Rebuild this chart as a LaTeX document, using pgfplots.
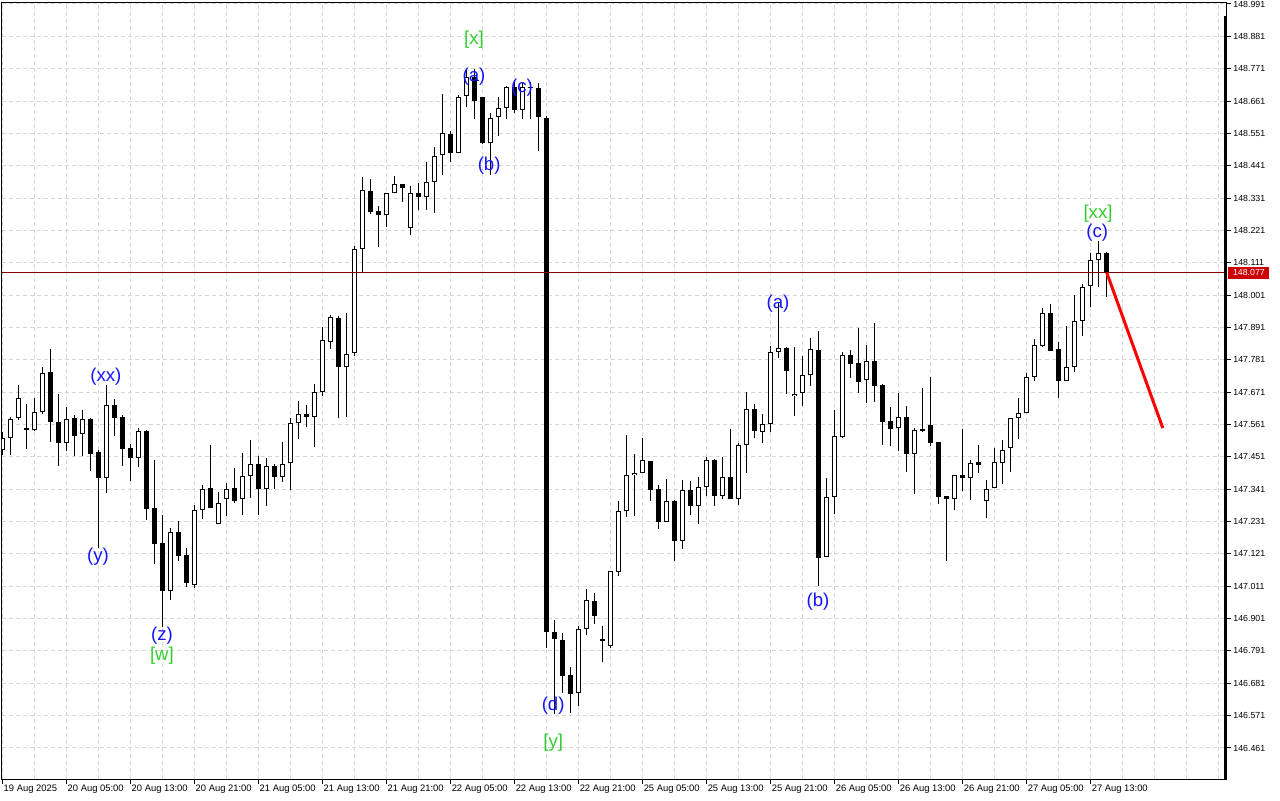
\documentclass[border=0pt]{standalone}
\usepackage{pgfplots}
\pgfplotsset{compat=1.18}
\usepackage{pgfplotstable}
\usepackage{fontspec}
\setmainfont{Liberation Sans}
\definecolor{wblue}{RGB}{20,20,255}
\definecolor{wgreen}{RGB}{50,205,50}
\definecolor{bidred}{RGB}{128,0,0}
\definecolor{gridc}{RGB}{215,215,215}
\definecolor{tagred}{RGB}{204,0,0}

\pgfplotstableread{
i o h l c
0 147.474 147.536 147.457 147.515
1 147.514 147.588 147.457 147.580
2 147.582 147.695 147.576 147.650
3 147.548 147.631 147.479 147.543
4 147.541 147.650 147.539 147.603
5 147.603 147.756 147.596 147.735
6 147.739 147.817 147.503 147.569
7 147.569 147.665 147.421 147.497
8 147.497 147.620 147.472 147.579
9 147.582 147.593 147.455 147.523
10 147.528 147.610 147.455 147.579
11 147.579 147.582 147.404 147.462
12 147.467 147.474 147.140 147.378
13 147.378 147.695 147.327 147.626
14 147.626 147.647 147.523 147.584
15 147.587 147.593 147.421 147.479
16 147.480 147.495 147.370 147.448
17 147.448 147.548 147.416 147.539
18 147.539 147.541 147.236 147.275
19 147.276 147.440 147.086 147.156
20 147.158 147.253 146.871 146.996
21 146.996 147.209 146.964 147.194
22 147.194 147.233 147.098 147.115
23 147.117 147.141 147.009 147.023
24 147.014 147.286 147.006 147.269
25 147.269 147.355 147.239 147.341
26 147.344 147.491 147.278 147.278
27 147.222 147.331 147.222 147.293
28 147.309 147.361 147.251 147.341
29 147.344 147.412 147.295 147.302
30 147.307 147.465 147.254 147.387
31 147.387 147.508 147.312 147.426
32 147.426 147.455 147.254 147.343
33 147.343 147.446 147.284 147.419
34 147.419 147.426 147.343 147.384
35 147.384 147.501 147.367 147.426
36 147.429 147.583 147.339 147.565
37 147.565 147.641 147.511 147.596
38 147.596 147.627 147.554 147.588
39 147.588 147.699 147.484 147.671
40 147.671 147.893 147.659 147.847
41 147.841 147.933 147.818 147.926
42 147.922 147.930 147.582 147.756
43 147.756 147.940 147.586 147.800
44 147.803 148.168 147.795 148.157
45 148.157 148.404 148.077 148.357
46 148.354 148.396 148.276 148.285
47 148.287 148.304 148.166 148.272
48 148.272 148.347 148.234 148.347
49 148.347 148.406 148.347 148.378
50 148.379 148.379 148.319 148.366
51 148.230 148.373 148.205 148.347
52 148.347 148.381 148.291 148.334
53 148.334 148.453 148.291 148.385
54 148.387 148.506 148.281 148.474
55 148.477 148.685 148.411 148.551
56 148.549 148.560 148.455 148.485
57 148.485 148.682 148.483 148.674
58 148.678 148.770 148.640 148.744
59 148.744 148.769 148.599 148.662
60 148.674 148.676 148.515 148.517
61 148.517 148.619 148.409 148.602
62 148.606 148.674 148.542 148.636
63 148.638 148.713 148.601 148.710
64 148.710 148.733 148.619 148.631
65 148.631 148.721 148.599 148.710
66 148.710 148.727 148.601 148.705
67 148.704 148.721 148.492 148.608
68 148.602 148.610 146.802 146.854
69 146.855 146.896 146.576 146.831
70 146.828 146.851 146.649 146.707
71 146.709 146.735 146.579 146.644
72 146.647 146.876 146.604 146.865
73 146.865 147.001 146.845 146.963
74 146.960 146.987 146.883 146.911
75 146.832 146.876 146.752 146.824
76 146.808 147.062 146.800 147.062
77 147.060 147.301 147.046 147.266
78 147.266 147.525 147.248 147.388
79 147.388 147.461 147.251 147.395
80 147.395 147.514 147.395 147.439
81 147.436 147.436 147.302 147.339
82 147.341 147.354 147.207 147.231
83 147.231 147.375 147.231 147.300
84 147.301 147.303 147.098 147.166
85 147.166 147.371 147.139 147.337
86 147.337 147.368 147.254 147.285
87 147.285 147.382 147.224 147.348
88 147.348 147.450 147.319 147.439
89 147.439 147.445 147.285 147.319
90 147.319 147.452 147.309 147.382
91 147.382 147.545 147.309 147.309
92 147.309 147.499 147.288 147.491
93 147.491 147.673 147.397 147.613
94 147.614 147.631 147.516 147.538
95 147.535 147.597 147.499 147.562
96 147.562 147.828 147.537 147.808
97 147.807 147.973 147.788 147.820
98 147.820 147.826 147.664 147.744
99 147.657 147.824 147.591 147.664
100 147.667 147.794 147.625 147.728
101 147.728 147.854 147.693 147.817
102 147.814 147.879 147.012 147.108
103 147.109 147.378 147.109 147.316
104 147.316 147.610 147.256 147.522
105 147.520 147.808 147.516 147.796
106 147.796 147.814 147.720 147.766
107 147.769 147.888 147.669 147.707
108 147.711 147.831 147.635 147.777
109 147.777 147.905 147.639 147.693
110 147.694 147.699 147.492 147.571
111 147.572 147.620 147.489 147.547
112 147.548 147.667 147.472 147.586
113 147.586 147.624 147.400 147.462
114 147.462 147.548 147.326 147.541
115 147.546 147.685 147.537 147.540
116 147.558 147.722 147.488 147.499
117 147.501 147.501 147.292 147.316
118 147.317 147.317 147.098 147.307
119 147.307 147.388 147.271 147.388
120 147.388 147.546 147.336 147.378
121 147.378 147.440 147.305 147.429
122 147.433 147.491 147.397 147.422
123 147.300 147.372 147.244 147.341
124 147.344 147.480 147.344 147.433
125 147.429 147.508 147.359 147.473
126 147.482 147.582 147.401 147.582
127 147.582 147.650 147.512 147.599
128 147.599 147.735 147.599 147.722
129 147.722 147.851 147.710 147.830
130 147.829 147.956 147.826 147.941
131 147.941 147.970 147.812 147.812
132 147.817 147.841 147.652 147.710
133 147.710 147.896 147.710 147.756
134 147.758 148.001 147.741 147.914
135 147.914 148.039 147.862 148.030
136 148.033 148.145 147.962 148.120
137 148.120 148.185 148.030 148.143
138 148.143 148.147 147.996 148.077
}\candles

\begin{document}
\begin{tikzpicture}[x=1pt,y=1pt]
\path[use as bounding box] (0,0) rectangle (640,400);
\fill[white] (0,0) rectangle (640,400);
\begin{axis}[
  at={(1pt,10.5pt)}, anchor=south west,
  scale only axis, width=612pt, height=388.5pt,
  xmin=-0.09, xmax=152.9, ymin=146.3555, ymax=148.9978,
  axis line style={line width=0.5pt, black},
  xtick={0,8,...,136},
  xticklabels={19 Aug 2025, 20 Aug 05:00, 20 Aug 13:00, 20 Aug 21:00, 21 Aug 05:00, 21 Aug 13:00, 21 Aug 21:00, 22 Aug 05:00, 22 Aug 13:00, 22 Aug 21:00, 25 Aug 05:00, 25 Aug 13:00, 25 Aug 21:00, 26 Aug 05:00, 26 Aug 13:00, 26 Aug 21:00, 27 Aug 05:00, 27 Aug 13:00},
  minor xtick={4,12,20,28,36,44,52,60,68,76,84,92,100,108,116,124,132,140,144,148,152},
  ytick={146.461,146.571,146.681,146.791,146.901,147.011,147.121,147.231,147.341,147.451,147.561,147.671,147.781,147.891,148.001,148.111,148.221,148.331,148.441,148.551,148.661,148.771,148.881,148.991},
  scaled y ticks=false,
  xmajorgrids, xminorgrids, ymajorgrids,
  major grid style={gridc, dash pattern=on 2pt off 1.5pt, line width=0.5pt},
  minor grid style={gridc, dash pattern=on 2pt off 1.5pt, line width=0.5pt},
  tick align=outside, major tick length=2.5pt, minor tick length=0pt,
  tick style={black, line width=0.5pt},
  xtick pos=left, ytick pos=right, yticklabel pos=right,
  yticklabel style={font=\fontsize{4.4}{5}\selectfont, anchor=west, inner sep=0pt, xshift=1pt,
    /pgf/number format/.cd, fixed, fixed zerofill, precision=3, assume math mode=true},
  xticklabel style={font=\fontsize{4.7}{5}\selectfont, anchor=north west, inner sep=0pt, xshift=0.3pt, yshift=-0.5pt},
  candle/.style={only marks, mark=*, mark size=0pt, mark options={draw=none, fill=none}},
]
% wicks
\addplot[candle, error bars/.cd, y dir=plus, y explicit, error mark=none,
  error bar style={line width=0.5pt, black, solid}]
  table[x=i, y=l, y error plus expr={\thisrow{h}-\thisrow{l}}] {\candles};
% bodies (black outline / fill)
\addplot[candle, error bars/.cd, y dir=plus, y explicit, error mark=none,
  error bar style={line width=2.5pt, black, solid, line cap=butt}]
  table[x=i, y expr={min(\thisrow{o},\thisrow{c})}, y error plus expr={abs(\thisrow{c}-\thisrow{o})}] {\candles};
% white interior of bullish bodies
\addplot[candle, error bars/.cd, y dir=plus, y explicit, error mark=none,
  error bar style={line width=1.5pt, white, solid, line cap=butt}]
  table[x=i, y expr={min(\thisrow{o},\thisrow{c})+0.0034}, y error plus expr={max(0,\thisrow{c}-\thisrow{o}-0.0068)}] {\candles};
% bid line
\addplot[bidred, line width=0.5pt] coordinates {(-0.09,148.077) (152.9,148.077)};
% projection
\addplot[red, line width=1.5pt] coordinates {(138,148.077) (145,147.549)};
% wave labels
\begin{scope}[every node/.style={font=\fontsize{9.3}{9.5}\selectfont, inner sep=0pt}]
\node[wblue] at (axis cs:12.9,147.723) {(xx)};
\node[wblue] at (axis cs:11.9,147.110) {(y)};
\node[wblue] at (axis cs:19.9,146.842) {(z)};
\node[wgreen] at (axis cs:19.9,146.774) {[w]};
\node[wgreen] at (axis cs:58.9,148.869) {[x]};
\node[wblue] at (axis cs:58.9,148.743) {(a)};
\node[wblue] at (axis cs:60.8,148.440) {(b)};
\node[wblue] at (axis cs:64.9,148.705) {(c)};
\node[wblue] at (axis cs:68.8,146.604) {(d)};
\node[wgreen] at (axis cs:68.8,146.478) {[y]};
\node[wblue] at (axis cs:96.9,147.971) {(a)};
\node[wblue] at (axis cs:101.9,146.957) {(b)};
\node[wblue] at (axis cs:136.8,148.212) {(c)};
\node[wgreen] at (axis cs:136.9,148.277) {[xx]};
\end{scope}
\coordinate (tag) at (axis cs:152.9,148.077);
\coordinate (tr) at (rel axis cs:1,1);
\coordinate (br) at (rel axis cs:1,0);
\end{axis}
\draw[line width=1.5pt, black] ([xshift=-0.5pt]br) -- ([xshift=-0.5pt,yshift=-7pt]tr);
\node[fill=tagred, text=white, anchor=west, inner xsep=2.3pt, inner ysep=0pt, minimum height=6pt,
  font=\fontsize{4.4}{5}\selectfont] at ([xshift=1pt]tag) {148.077};
\end{tikzpicture}
\end{document}
